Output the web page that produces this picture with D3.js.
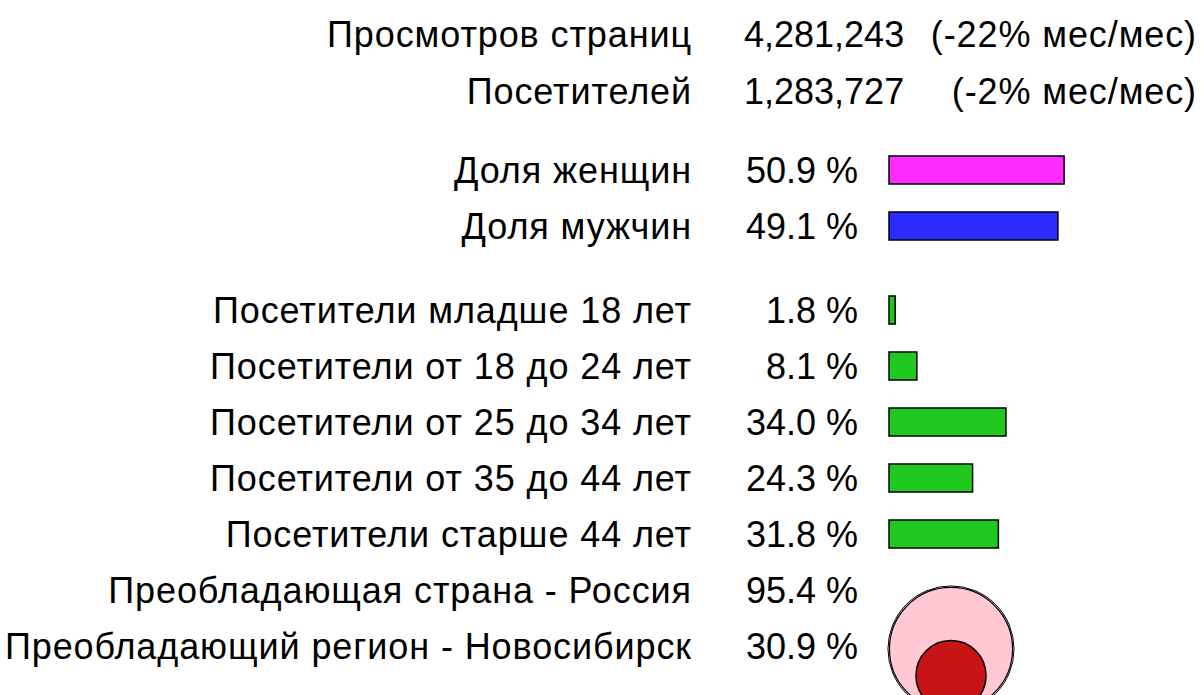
<!DOCTYPE html>
<html>
<head>
<meta charset="utf-8">
<script src="https://cdn.jsdelivr.net/npm/d3@7"></script>
<style>
  body { margin: 0; background: #fff; }
  text { font-family: "Liberation Sans", Arial, sans-serif; font-size: 36px; fill: #000; }
  text.lab { letter-spacing: 0.9px; }
</style>
</head>
<body>
<div id="chart"></div>
<script>
// summary rows
var summaryLabels = ["Просмотров страниц", "Посетителей"];
var summaryValues = [4281243, 1283727];
var summaryChange = [-22, -2];

// gender share
var genderLabels = ["Доля женщин", "Доля мужчин"];
var genderValues = [50.9, 49.1];

// age groups
var ageLabels = ["Посетители младше 18 лет", "Посетители от 18 до 24 лет",
  "Посетители от 25 до 34 лет", "Посетители от 35 до 44 лет", "Посетители старше 44 лет"];
var ageValues = [1.8, 8.1, 34.0, 24.3, 31.8];

// geography
var geoLabels = ["Преобладающая страна - Россия", "Преобладающий регион - Новосибирск"];
var geoValues = [95.4, 30.9];

var width = 1202, height = 695;
var labelX = 692, pctX = 858, barX = 889, rowH = 56, barH = 28;

var svg = d3.select("#chart")
  .append("svg")
    .attr("width", width)
    .attr("height", height);

// scales
var x = d3.scaleLinear().domain([0, 100]).range([0, 344]);
var r = d3.scaleSqrt().domain([0, 100]).range([0, 63]);
var fmtNum = d3.format(",");
var fmtPct = function(v) { return d3.format(".1f")(v) + " %"; };

// summary block
var summary = svg.append("g");
summaryLabels.forEach(function(lab, i) {
  var y = 34 + i * 57;
  summary.append("text").attr("class", "lab").attr("x", labelX).attr("y", y).attr("dy", "0.35em")
    .attr("text-anchor", "end").text(lab);
  summary.append("text").attr("x", 744).attr("y", y).attr("dy", "0.35em")
    .text(fmtNum(summaryValues[i]));
  summary.append("text").attr("class", "lab").attr("x", 1197).attr("y", y).attr("dy", "0.35em")
    .attr("text-anchor", "end").text("(" + summaryChange[i] + "% мес/мес)");
});

// helper for a block of bar rows
function barRows(labels, values, y0, colors) {
  var g = svg.append("g");
  var rows = g.selectAll("g").data(values).enter().append("g")
    .attr("transform", function(d, i) { return "translate(0," + (y0 + i * rowH) + ")"; });
  rows.append("text").attr("class", "lab").attr("x", labelX).attr("dy", "0.35em")
    .attr("text-anchor", "end").text(function(d, i) { return labels[i]; });
  rows.append("text").attr("x", pctX).attr("dy", "0.35em")
    .attr("text-anchor", "end").text(function(d) { return fmtPct(d); });
  rows.append("rect")
    .attr("x", barX)
    .attr("y", -barH / 2)
    .attr("width", function(d) { return x(d); })
    .attr("height", barH)
    .attr("fill", function(d, i) { return colors[i]; })
    .attr("stroke", "#000")
    .attr("stroke-width", 1.5);
}

barRows(genderLabels, genderValues, 170, ["#ff2cff", "#2b2bff"]);
barRows(ageLabels, ageValues, 310, ageValues.map(function() { return "#20c820"; }));

// geography rows with nested circles
var geoY0 = 590;
var geo = svg.append("g");
geoLabels.forEach(function(lab, i) {
  var y = geoY0 + i * rowH;
  geo.append("text").attr("class", "lab").attr("x", labelX).attr("y", y).attr("dy", "0.35em")
    .attr("text-anchor", "end").text(lab);
  geo.append("text").attr("x", pctX).attr("y", y).attr("dy", "0.35em")
    .attr("text-anchor", "end").text(fmtPct(geoValues[i]));
});

var cx = 951, base = 710.5;
var rOuter = r(geoValues[0]), rInner = r(geoValues[1]);
geo.append("circle").attr("cx", cx).attr("cy", base - rOuter).attr("r", rOuter + 1.5)
  .attr("fill", "none").attr("stroke", "#000").attr("stroke-width", 1);
geo.append("circle").attr("cx", cx).attr("cy", base - rOuter).attr("r", rOuter)
  .attr("fill", "#ffc8d2").attr("stroke", "#000").attr("stroke-width", 1.2);
geo.append("circle").attr("cx", cx).attr("cy", base - rInner).attr("r", rInner)
  .attr("fill", "#c81414").attr("stroke", "#000").attr("stroke-width", 1.5);
</script>
</body>
</html>
